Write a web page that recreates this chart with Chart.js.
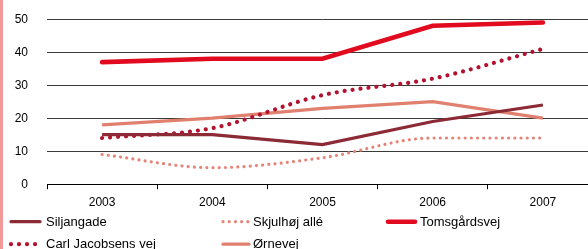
<!DOCTYPE html>
<html>
<head>
<meta charset="utf-8">
<script src="https://cdn.jsdelivr.net/npm/chart.js@4"></script>
<style>
  html, body { margin: 0; padding: 0; background: #fff; overflow: hidden; }
  #page { position: relative; width: 588px; height: 249px; overflow: hidden; }
  #wrap { position: absolute; left: 0; top: 0; width: 650px; height: 249px; }
  #strip { position: absolute; left: 0; top: 0; width: 3px; height: 249px; background: #f29a9a; z-index: 2; }
</style>
</head>
<body>
<div id="page">
  <div id="wrap"><canvas id="chart-main"></canvas></div>
  <div id="strip"></div>
</div>
<script>
const years = ["2003", "2004", "2005", "2006", "2007"];
const siljangade = [15, 15, 12, 19, 24];
const skjulhoj = [9, 5, 8, 14, 14];
const tomsgardsvej = [37, 38, 38, 48, 49];
const carlJacobsens = [14, 17, 27, 32, 41];
const ornevej = [18, 20, 23, 25, 20];
const yTicks = [0, 10, 20, 30, 40, 50];

const FONT = "'Liberation Sans', Arial, sans-serif";
const PLOT_TOP = 19; // page y of the 50 gridline
let shift = 0;

// legend slots in page coords: [sampleX, sampleX2, textX, y]
const legendSlots = [
  [11, 40, 46, 221.5],
  [223, 249, 253, 221.5],
  [388, 415, 420, 221.5],
  [11, 40, 46, 244],
  [223, 249, 253, 244],
];

const legendPlugin = {
  id: "fixedLegend",
  afterDraw(chart) {
    const ctx = chart.ctx;
    chart.data.datasets.forEach((ds, i) => {
      const [x1, x2, tx, py] = legendSlots[i];
      const y = py + shift;
      ctx.save();
      ctx.strokeStyle = ds.borderColor;
      ctx.lineWidth = ds.borderWidth;
      ctx.lineCap = "round";
      ctx.setLineDash(ds.borderDash || []);
      ctx.beginPath();
      ctx.moveTo(x1, y);
      ctx.lineTo(x2, y);
      ctx.stroke();
      ctx.restore();
      ctx.save();
      ctx.fillStyle = "#000";
      ctx.font = `13px ${FONT}`;
      ctx.textBaseline = "middle";
      ctx.fillText(ds.label, tx, y + 0.5);
      ctx.restore();
    });
  },
};

const ctx = document.getElementById("chart-main").getContext("2d");
const chart = new Chart(ctx, {
  type: "line",
  data: {
    labels: years,
    datasets: [
      {
        label: "Siljangade",
        data: siljangade,
        borderColor: "#8c2a35",
        borderWidth: 3.2,
        tension: 0,
      },
      {
        label: "Skjulhøj allé",
        data: skjulhoj,
        borderColor: "#e5857a",
        borderWidth: 3.2,
        borderDash: [0.01, 6.2],
        borderCapStyle: "round",
        cubicInterpolationMode: "monotone",
      },
      {
        label: "Tomsgårdsvej",
        data: tomsgardsvej,
        borderColor: "#e10a1e",
        borderWidth: 4.6,
        borderCapStyle: "round",
        tension: 0,
      },
      {
        label: "Carl Jacobsens vej",
        data: carlJacobsens,
        borderColor: "#b3122f",
        borderWidth: 4.2,
        borderDash: [0.01, 8],
        borderCapStyle: "round",
        cubicInterpolationMode: "monotone",
      },
      {
        label: "Ørnevej",
        data: ornevej,
        borderColor: "#e0806f",
        borderWidth: 3.2,
        tension: 0,
      },
    ],
  },
  options: {
    responsive: true,
    maintainAspectRatio: false,
    animation: false,
    events: [],
    layout: { padding: { top: 0, right: 52, left: 0, bottom: 0 } },
    elements: { point: { radius: 0 } },
    plugins: { legend: { display: false }, tooltip: { enabled: false } },
    scales: {
      x: {
        offset: true,
        grid: {
          offset: true,
          drawOnChartArea: false,
          drawTicks: true,
          tickLength: 5,
          color: "#000",
        },
        border: { display: true, color: "#000", width: 1 },
        ticks: { color: "#000", font: { family: FONT, size: 12 }, padding: 6, maxRotation: 0 },
        afterFit(scale) { scale.height = 65; },
      },
      y: {
        min: 0,
        max: 50,
        afterBuildTicks(scale) { scale.ticks = yTicks.map((v) => ({ value: v })); },
        grid: { color: "#3a3a3a", lineWidth: 1, drawTicks: false },
        border: { display: false },
        ticks: { color: "#000", font: { family: FONT, size: 12 }, padding: 19 },
        afterFit(scale) { scale.width = 47; },
      },
    },
  },
  plugins: [legendPlugin],
});

// the library reserves its own top margin; move the canvas up so the 50 line lands at PLOT_TOP
shift = Math.max(0, chart.chartArea.top - PLOT_TOP);
const wrap = document.getElementById("wrap");
wrap.style.top = `${-shift}px`;
wrap.style.height = `${249 + shift}px`;
chart.resize(650, 249 + shift);
</script>
</body>
</html>
